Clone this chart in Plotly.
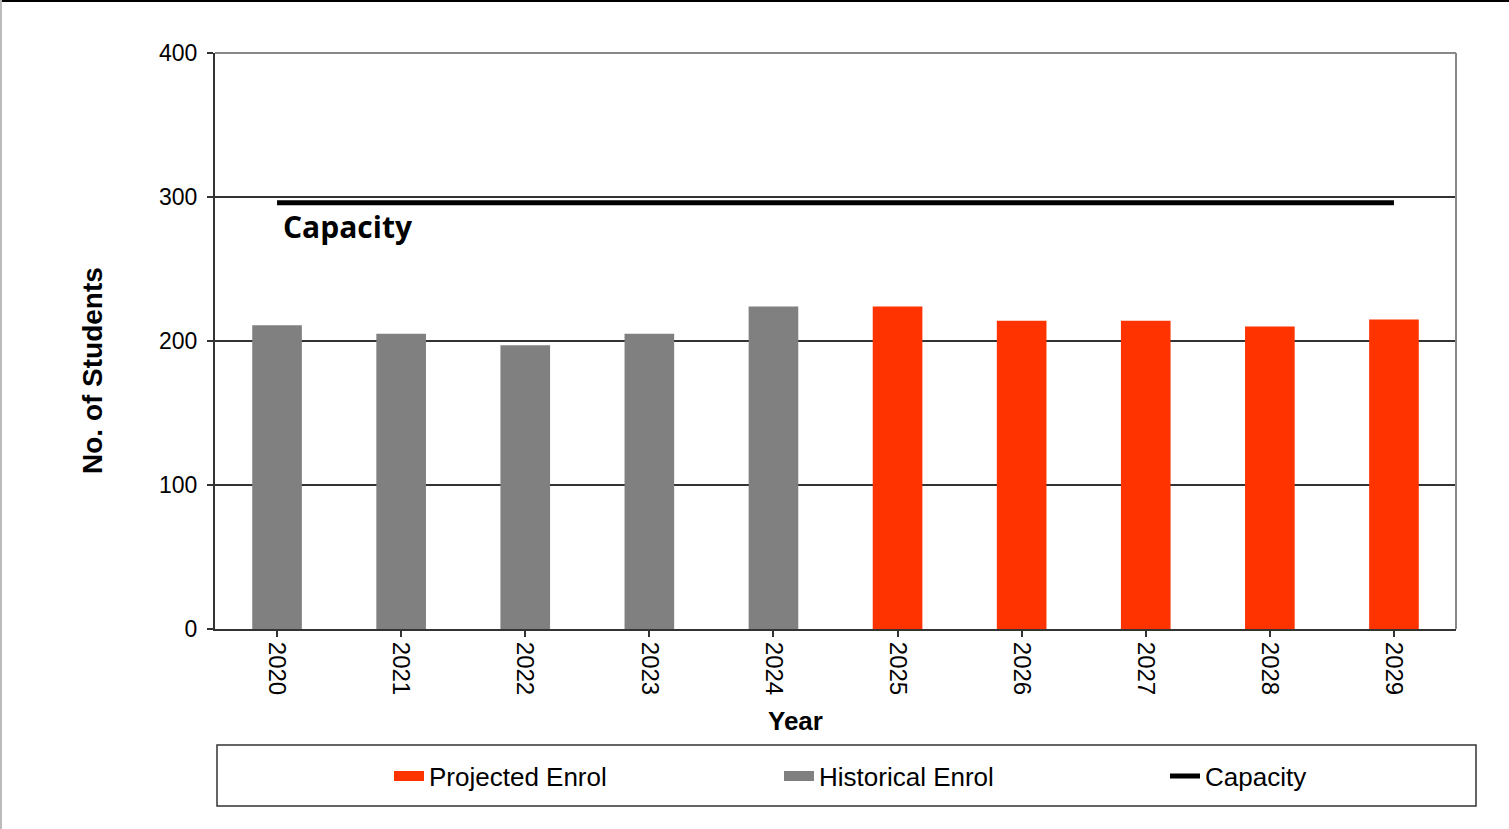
import plotly.graph_objects as go

years = ["2020", "2021", "2022", "2023", "2024", "2025", "2026", "2027", "2028", "2029"]
hist_years = ["2020", "2021", "2022", "2023", "2024"]
hist_enrol = [211, 205, 197, 205, 224]
proj_years = ["2025", "2026", "2027", "2028", "2029"]
proj_enrol = [224, 214, 214, 210, 215]
capacity = [296] * 10
y_ticks = [0, 100, 200, 300, 400]

RED = "#FF3300"
GREY = "#808080"
W, H = 1509, 829
L, R, T, B = 215, 53, 53, 200
PW, PH = W - L - R, H - T - B
ARIAL = "Liberation Sans, Arial, sans-serif"


def px(x):
    return (x - L) / PW


def py(y):
    return (H - B - y) / PH


fig = go.Figure()
fig.add_trace(go.Bar(x=proj_years, y=proj_enrol, name="Projected Enrol",
                     marker=dict(color=RED, line=dict(width=0)), width=0.4, showlegend=False))
fig.add_trace(go.Bar(x=hist_years, y=hist_enrol, name="Historical Enrol",
                     marker=dict(color=GREY, line=dict(width=0)), width=0.4, showlegend=False))
fig.add_trace(go.Scatter(x=years, y=capacity, mode="lines", name="Capacity",
                         line=dict(color="black", width=5), showlegend=False))

# legend entries (one legend per entry so they can be spaced like the original)
fig.add_trace(go.Scatter(x=[None], y=[None], mode="lines", name="Projected Enrol",
                         line=dict(color=RED, width=12), legend="legend"))
fig.add_trace(go.Scatter(x=[None], y=[None], mode="lines", name="Historical Enrol",
                         line=dict(color=GREY, width=12), legend="legend2"))
fig.add_trace(go.Scatter(x=[None], y=[None], mode="lines", name="Capacity",
                         line=dict(color="black", width=5), legend="legend3"))

leg_common = dict(orientation="h", xanchor="left", yanchor="middle", y=py(776),
                  font=dict(size=26, family=ARIAL, color="black"),
                  bgcolor="rgba(0,0,0,0)", borderwidth=0)

fig.update_layout(
    width=W, height=H,
    margin=dict(l=L, r=R, t=T, b=B, autoexpand=False),
    paper_bgcolor="white", plot_bgcolor="white",
    barmode="overlay",
    font=dict(family=ARIAL, color="black"),
    showlegend=True,
    legend=dict(x=px(389), **leg_common),
    legend2=dict(x=px(779), **leg_common),
    legend3=dict(x=px(1165), **leg_common),
    xaxis=dict(type="category", categoryorder="array", categoryarray=years,
               range=[-0.5, 9.5], tickangle=90, tickfont=dict(size=24),
               ticks="outside", ticklen=6, tickwidth=1.5, tickcolor="#333",
               showline=True, linecolor="#333", linewidth=2, showgrid=False,
               zeroline=False, fixedrange=True),
    yaxis=dict(range=[0, 400], tickvals=y_ticks, tickfont=dict(size=23),
               ticks="outside", ticklen=6, tickwidth=1.5, tickcolor="#333",
               ticklabelstandoff=5,
               showline=True, linecolor="#333", linewidth=2,
               showgrid=True, gridcolor="#333", gridwidth=1.5,
               zeroline=False, fixedrange=True),
    shapes=[
        dict(type="line", xref="paper", yref="paper", x0=0, x1=1, y0=1, y1=1,
             line=dict(color="#888", width=2)),
        dict(type="line", xref="paper", yref="paper", x0=1, x1=1, y0=0, y1=1,
             line=dict(color="#888", width=2)),
        dict(type="rect", xref="paper", yref="paper", x0=px(217), x1=px(1476),
             y0=py(806), y1=py(745), line=dict(color="#333", width=1.5)),
        dict(type="line", xref="paper", yref="paper", x0=px(0), x1=px(W), y0=py(1), y1=py(1),
             line=dict(color="black", width=2)),
        dict(type="line", xref="paper", yref="paper", x0=px(1), x1=px(1), y0=py(0), y1=py(H),
             line=dict(color="#bbb", width=2)),
    ],
    annotations=[
        dict(text="<b>Capacity</b>", x=px(281), y=py(226), xref="paper", yref="paper",
             xanchor="left", yanchor="middle", showarrow=False,
             font=dict(size=30, family="Open Sans, sans-serif", color="black")),
        dict(text="<b>Year</b>", x=px(795), y=py(721), xref="paper", yref="paper",
             xanchor="center", yanchor="middle", showarrow=False,
             font=dict(size=26, family=ARIAL, color="black")),
        dict(text="<b>No. of Students</b>", x=px(93), y=py(371), xref="paper", yref="paper",
             xanchor="center", yanchor="middle", textangle=-90, showarrow=False,
             font=dict(size=28, family=ARIAL, color="black")),
    ],
)

fig.write_html("out.html", config={"displayModeBar": False},
               post_script="document.body.style.margin='0';document.body.style.padding='0';")
